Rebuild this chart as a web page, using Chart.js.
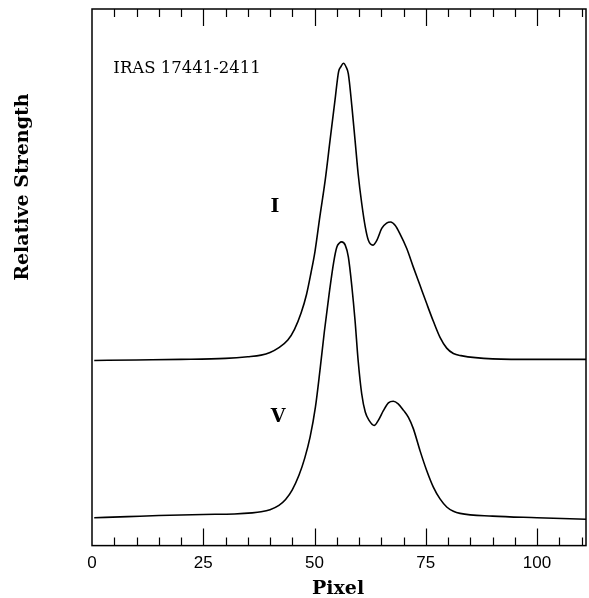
<!DOCTYPE html>
<html>
<head>
<meta charset="utf-8">
<script src="https://cdn.jsdelivr.net/npm/chart.js@4"></script>
<style>
  html, body { margin: 0; padding: 0; background: #fff; }
  #wrap { width: 589px; height: 598px; }
</style>
</head>
<body>
<div id="wrap"><canvas id="chart"></canvas></div>
<script>
// Stokes I profile (upper curve)
const pixelI = [0.5, 10, 20, 30, 35, 38, 40, 42, 44, 45.5, 47, 48.2, 49.2, 50.1, 51.2, 52.4, 53.5, 54.6, 55.4, 55.9, 56.5, 57.1, 57.6,
  58.4, 59.1, 59.8, 60.6, 61.4, 62.1, 63.1, 64.0, 65.1, 66.2, 67.1, 68.1, 69.2, 70.7, 72.2, 73.7, 75.2, 76.7, 78.2,
  79.7, 81.2, 82.9, 90, 100, 111];
const strengthI = [34.5, 34.6, 34.7, 34.9, 35.2, 35.5, 36.0, 36.9, 38.3, 40.3, 43.4, 46.8, 50.8, 54.8, 61.3, 68.1, 75.6, 83.0, 88.3, 89.2, 89.9, 89.2, 87.9,
  81.8, 75.6, 69.3, 63.8, 59.4, 56.9, 56.0, 56.9, 59.1, 60.1, 60.3, 59.7, 58.1, 55.4, 51.9, 48.5, 45.1, 41.8, 38.8,
  36.8, 35.8, 35.4, 34.8, 34.7, 34.7];

// Stokes V profile (lower curve)
const pixelV = [0.5, 8, 15, 25, 32, 36, 38, 40, 42, 43.5, 45, 46.5, 47.8, 49.0, 50.2, 51.2, 52.2, 53.3, 54.3, 55.0, 55.6, 56.1, 56.9,
  57.6, 58.4, 59.1, 59.8, 60.6, 61.4, 62.3, 63.4, 64.3, 65.5, 66.6, 67.7, 68.8, 70.0, 71.1, 72.2, 73.7, 75.2, 76.7,
  78.2, 79.7, 81.2, 82.7, 90, 100, 111];
const strengthV = [5.2, 5.4, 5.6, 5.8, 5.9, 6.1, 6.3, 6.7, 7.5, 8.6, 10.4, 13.1, 16.3, 20.2, 25.8, 32.5, 39.8, 47.0, 52.8, 55.6, 56.4, 56.6, 56.0,
  53.8, 48.2, 42.0, 34.5, 28.3, 24.9, 23.3, 22.4, 23.3, 25.2, 26.6, 26.9, 26.4, 25.2, 23.9, 21.8, 17.7, 14.0, 10.9,
  8.7, 7.2, 6.4, 6.0, 5.5, 5.2, 4.9];

const xTickLabels = [0, 25, 50, 75, 100];

const pointsI = pixelI.map((x, i) => ({ x: x, y: strengthI[i] }));
const pointsV = pixelV.map((x, i) => ({ x: x, y: strengthV[i] }));

const serif = '"DejaVu Serif", "Liberation Serif", serif';

// frame, inward ticks and the text labels
const framePlugin = {
  id: 'frame',
  afterDraw(chart) {
    const ctx = chart.ctx;
    const area = chart.chartArea;
    const xs = chart.scales.x;
    const ys = chart.scales.y;
    ctx.save();
    ctx.strokeStyle = '#000';
    ctx.lineWidth = 1.5;
    ctx.strokeRect(area.left, area.top, area.right - area.left, area.bottom - area.top);

    ctx.lineWidth = 1.2;
    for (let v = 5; v < 111; v += 5) {
      const px = Math.round(xs.getPixelForValue(v)) + 0.5;
      const len = v % 25 === 0 ? 17 : 8;
      ctx.beginPath();
      ctx.moveTo(px, area.bottom);
      ctx.lineTo(px, area.bottom - len);
      ctx.moveTo(px, area.top);
      ctx.lineTo(px, area.top + len);
      ctx.stroke();
    }

    ctx.fillStyle = '#000';
    ctx.font = '16.5px ' + serif;
    ctx.textAlign = 'left';
    ctx.textBaseline = 'middle';
    ctx.fillText('IRAS 17441-2411', xs.getPixelForValue(4.8), ys.getPixelForValue(88.8));

    ctx.font = 'bold 19px ' + serif;
    ctx.textAlign = 'center';
    ctx.fillText('I', xs.getPixelForValue(41.1), ys.getPixelForValue(63.1));
    ctx.fillText('V', xs.getPixelForValue(41.8), ys.getPixelForValue(23.9));
    ctx.fillText('Pixel', xs.getPixelForValue(55.3), area.bottom + 43);

    ctx.translate(area.left - 69, ys.getPixelForValue(66.8));
    ctx.rotate(-Math.PI / 2);
    ctx.fillText('Relative Strength', 0, 0);
    ctx.restore();
  }
};

new Chart(document.getElementById('chart'), {
  type: 'line',
  data: {
    datasets: [
      { label: 'I', data: pointsI },
      { label: 'V', data: pointsV }
    ]
  },
  options: {
    responsive: true,
    maintainAspectRatio: false,
    animation: false,
    devicePixelRatio: 1,
    layout: { padding: { left: 92, right: 3, top: 9, bottom: 16 } },
    elements: {
      line: { borderColor: '#000', borderWidth: 1.6, cubicInterpolationMode: 'monotone', fill: false },
      point: { radius: 0 }
    },
    plugins: {
      legend: { display: false },
      tooltip: { enabled: false }
    },
    scales: {
      x: {
        type: 'linear',
        min: 0,
        max: 111,
        grid: { display: false, drawTicks: false },
        border: { display: false },
        afterBuildTicks(scale) {
          scale.ticks = xTickLabels.map(v => ({ value: v }));
        },
        ticks: {
          padding: 8,
          color: '#000',
          font: { family: '"Liberation Sans", Arial, sans-serif', size: 17 },
          maxRotation: 0
        }
      },
      y: {
        display: false,
        min: 0,
        max: 100
      }
    }
  },
  plugins: [framePlugin]
});
</script>
</body>
</html>
